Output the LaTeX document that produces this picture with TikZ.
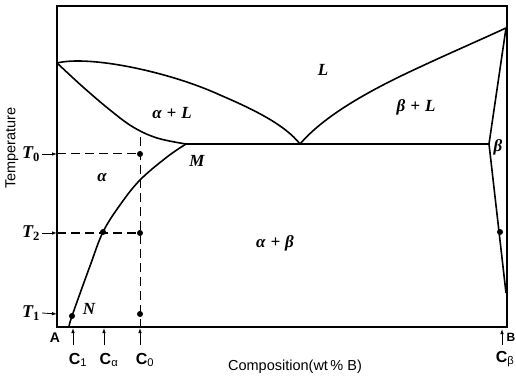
\documentclass[tikz,border=0pt]{standalone}
\usepackage{fontspec}
\setmainfont{Liberation Serif}
\newfontfamily\axisfont{Liberation Sans}
\usetikzlibrary{arrows.meta}
\newcommand{\pplus}{\hspace{5pt}+\hspace{5pt}}
\begin{document}
\begin{tikzpicture}[x=1pt,y=-1pt,
  curve/.style={line width=1.6pt, line join=round},
  dashline/.style={line width=1pt, dash pattern=on 9pt off 5pt},
  dotnode/.style={circle, fill=black, inner sep=0pt, minimum size=6pt},
  phase/.style={font=\fontsize{17}{17}\selectfont\bfseries\itshape, inner sep=1pt},
  tlabel/.style={font=\fontsize{18}{18}\selectfont\bfseries\itshape, inner sep=0pt},
  clabel/.style={font=\axisfont\fontsize{16}{16}\selectfont\bfseries, inner sep=0pt},
  axtitle/.style={font=\axisfont\fontsize{14.5}{14.5}\selectfont, inner sep=0pt},
  tarrow/.style={-{Latex[length=5pt,width=3.5pt]}, line width=0.8pt}]
\useasboundingbox (0,0) rectangle (516,379);
% frame
\draw[line width=1.6pt] (57,6) rectangle (507,327);
% key points
\coordinate (TA) at (57,63);
\coordinate (TB) at (506,28);
\coordinate (Mp) at (186,144);
\coordinate (E) at (300,144);
\coordinate (Bp) at (489,144);
\coordinate (Bs) at (506,293);
% left liquidus
\draw[curve] (TA) .. controls (90,55) and (170,72) .. (220,95) .. controls (255,110) and (285,125) .. (E);
% left solidus
\draw[curve] plot[smooth, tension=0.6] coordinates {(57,63) (83,87) (110,110) (133,127) (157,138) (186,144)};
% alpha solvus
\draw[curve] plot[smooth, tension=0.6] coordinates {(186,144) (167,157) (140,180) (120,205) (103,232) (90,266) (72,316) (69,327)};
% right liquidus
\draw[curve] (E) .. controls (325,115) and (370,90) .. (420,67) .. controls (450,53) and (480,40) .. (TB);
% eutectic line
\draw[curve] (Mp) -- (Bp);
% beta solidus and solvus
\draw[curve] (TB) -- (Bp) -- (Bs);
% dashed lines
\coordinate (T0a) at (57,154);
\coordinate (T2a) at (57,233);
\coordinate (T1a) at (57,314);
\coordinate (Vtop) at (140,137);
\coordinate (Vbot) at (140,327);
\node[dotnode] (d0) at (140,154) {};
\node[dotnode] (d2) at (140,233) {};
\node[dotnode] (d2c) at (103,232) {};
\node[dotnode] (d1) at (140,314) {};
\node[dotnode] (dN) at (72,316) {};
\node[dotnode] (dB) at (500,232) {};
\draw[dashline] (T0a) -- (d0);
\draw[dashline] (T2a) -- (d2);
\draw[dashline] (Vtop) -- (Vbot);
% T labels
\node[tlabel] (T0) at (31,154) {T\textsubscript{\upshape 0}};
\node[tlabel] (T2) at (31,233) {T\textsubscript{\upshape 2}};
\node[tlabel] (T1) at (31,313) {T\textsubscript{\upshape 1}};
\draw[tarrow] (T0.east) ++(2,0) coordinate (t0s) -- (T0a);
\draw[tarrow] (T2.east) ++(2,0) coordinate (t2s) -- (T2a);
\draw[tarrow] (T1.east) ++(2,0) coordinate (t1s) -- (T1a);
% bottom arrows and labels
\coordinate (c1t) at (73,328);
\coordinate (cat) at (104,328);
\coordinate (c0t) at (140,328);
\coordinate (cbt) at (502,329);
\node[clabel] (C1) at (78,360) {C\textsubscript{\mdseries 1}};
\node[clabel] (Ca) at (109,360) {C\textsubscript{\mdseries α}};
\node[clabel] (C0) at (145,360) {C\textsubscript{\mdseries 0}};
\node[clabel] (Cb) at (505,359) {C\textsubscript{\mdseries β}};
\draw[tarrow] (73,345) -- (c1t);
\draw[tarrow] (104,345) -- (cat);
\draw[tarrow] (140,345) -- (c0t);
\draw[tarrow] (502,345) -- (cbt);
\node[clabel, font=\axisfont\fontsize{14}{14}\selectfont\bfseries] (A) at (55,338) {A};
\node[clabel, anchor=west, font=\axisfont\fontsize{12}{12}\selectfont\bfseries] (B) at (506.5,337) {B};
% phase labels
\node[phase] (L) at (323,70) {L};
\node[phase] (aL) at (172,113) {α\pplus L};
\node[phase] (bL) at (416,107) {β\pplus L};
\node[phase] (al) at (102,178) {α};
\node[phase] (M) at (197,161) {M};
\node[phase] (N) at (89,309) {N};
\node[phase] (ab) at (275,243) {α\pplus β};
\node[phase] (be) at (498,147) {β};
% axis titles
\node[axtitle] (xt) at (295,367) {Composition(wt\,\% B)};
\node[axtitle, rotate=90] (yt) at (12,148) {Temperature};
\end{tikzpicture}
\end{document}
